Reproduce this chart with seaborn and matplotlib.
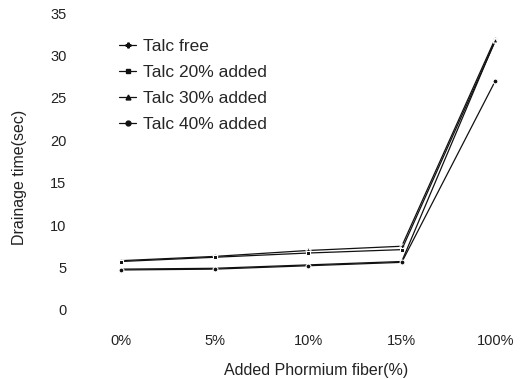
import matplotlib
matplotlib.use("Agg")
import matplotlib.pyplot as plt
import seaborn as sns
import pandas as pd
from matplotlib.lines import Line2D

categories = ["0%", "5%", "10%", "15%", "100%"]
series_names = ["Talc free", "Talc 20% added", "Talc 30% added", "Talc 40% added"]
talc_free = [5.8, 6.3, 7.0, 7.5, 32.0]
talc_20 = [5.7, 6.2, 6.7, 7.1, 31.7]
talc_30 = [4.8, 4.9, 5.3, 5.7, 31.8]
talc_40 = [4.7, 4.8, 5.2, 5.6, 27.0]
yticks = [0, 5, 10, 15, 20, 25, 30, 35]

values = [talc_free, talc_20, talc_30, talc_40]
rows = []
for name, vals in zip(series_names, values):
    for i, (c, v) in enumerate(zip(categories, vals)):
        rows.append({"series": name, "pos": i, "cat": c, "value": v})
df = pd.DataFrame(rows)

sns.set_theme(style="white")
plt.rcParams['font.family'] = ['Liberation Sans', 'DejaVu Sans']

fig = plt.figure(figsize=(5.24, 3.79), dpi=100)
ax = fig.add_axes([79/524, 1 - 320/379, 435/524, (320 - 8)/379])

markers = ["P", "s", "^", "o"]
sns.lineplot(data=df, x="pos", y="value", hue="series", style="series",
             palette=["#111111"] * 4, markers=markers, dashes=False,
             markersize=3.5, linewidth=0.9, ax=ax, legend=False)

ax.set_xlim(-0.45, 4.2)
ax.set_ylim(-1.2, 35.6)
ax.set_xticks(range(len(categories)))
ax.set_xticklabels(categories)
ax.set_yticks(yticks)
ax.set_yticklabels([str(t) for t in yticks])
for s in ax.spines.values():
    s.set_visible(False)
ax.tick_params(axis="both", length=0, labelsize=10.5, colors="#222222")
ax.tick_params(axis="y", pad=9)
ax.tick_params(axis="x", pad=10)
ax.set_xlabel("Added Phormium fiber(%)", fontsize=11.5, color="#222222")
ax.set_ylabel("Drainage time(sec)", fontsize=11.5, color="#222222")
ax.xaxis.set_label_coords((316 - 79) / 435, -(370 - 320) / 312, transform=ax.transAxes)
ax.xaxis.label.set_va("center")
ax.yaxis.set_label_coords(-(79 - 20) / 435, (320 - 177) / 312, transform=ax.transAxes)
ax.yaxis.label.set_va("center")

handles = [Line2D([], [], color="#111111", marker=m, markersize=3.5, linewidth=0.9)
           for m in markers]
leg = ax.legend(handles, series_names, loc="upper left",
                bbox_to_anchor=((112 - 79) / 435, (320 - 32) / 312),
                frameon=False, fontsize=12.5, handlelength=1.0, handletextpad=0.4,
                labelspacing=0.62, borderaxespad=0)

fig.savefig("out.png", dpi=100)
